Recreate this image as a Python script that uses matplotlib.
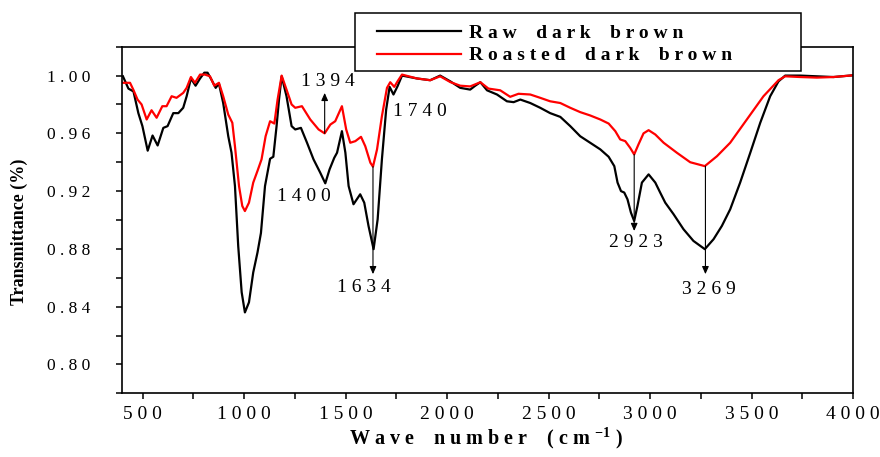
import numpy as np
import matplotlib
matplotlib.use("Agg")
import matplotlib.pyplot as plt
from matplotlib.ticker import MultipleLocator, FuncFormatter
from matplotlib.patches import Rectangle

plt.rcParams['font.family'] = ['Liberation Serif', 'DejaVu Serif']
plt.rcParams['mathtext.fontset'] = 'custom'
plt.rcParams['mathtext.rm'] = 'Liberation Serif'
plt.rcParams['mathtext.bf'] = 'Liberation Serif:bold'

# Serien
raw_label = "Raw dark brown"
roasted_label = "Roasted dark brown"

raw_x = [403, 430, 455, 479, 499, 525, 549, 574, 602, 623, 651, 676, 700, 717, 738, 761, 783, 804, 820, 840,
         860, 876, 897, 922, 938, 955, 971, 988, 1004, 1024, 1045, 1066, 1083, 1103, 1128, 1144, 1160, 1172, 1185, 1209,
         1234, 1252, 1280, 1310, 1342, 1375, 1400, 1421, 1444, 1458, 1482, 1499, 1515, 1539, 1572, 1592, 1613, 1638, 1658, 1679,
         1700, 1717, 1736, 1756, 1778, 1852, 1917, 1966, 2016, 2065, 2114, 2139, 2164, 2197, 2246, 2295, 2328, 2361, 2410, 2459,
         2508, 2558, 2607, 2656, 2705, 2755, 2796, 2824, 2840, 2857, 2873, 2889, 2906, 2922, 2938, 2960, 2993, 3026, 3050, 3075,
         3116, 3165, 3214, 3270, 3313, 3354, 3395, 3444, 3494, 3543, 3592, 3633, 3666, 3740, 3822, 3904, 4000]
raw_y = [0.9995, 0.991, 0.989, 0.974, 0.965, 0.948, 0.9585, 0.9516, 0.9638, 0.965, 0.974, 0.974, 0.9777, 0.9857, 0.998, 0.993, 0.998, 1.002, 1.002, 0.997,
         0.9915, 0.9945, 0.981, 0.958, 0.9466, 0.9235, 0.882, 0.850, 0.836, 0.843, 0.8637, 0.8775, 0.891, 0.9235, 0.9424, 0.9438, 0.965, 0.9834, 0.9995, 0.9857,
         0.965, 0.9627, 0.9638, 0.9535, 0.942, 0.9328, 0.9254, 0.935, 0.943, 0.9466, 0.9615, 0.9466, 0.9235, 0.9109, 0.9178, 0.912, 0.8959, 0.8798, 0.9005, 0.942,
         0.9765, 0.9922, 0.9869, 0.9926, 1.000, 0.998, 0.9968, 1.000, 0.996, 0.9915, 0.9903, 0.993, 0.9954, 0.9898, 0.9869, 0.9822, 0.9816, 0.9834, 0.981, 0.9777,
         0.974, 0.9714, 0.965, 0.958, 0.9535, 0.9489, 0.9438, 0.9373, 0.9259, 0.920, 0.919, 0.9143, 0.9051, 0.8993, 0.9097, 0.9259, 0.9316, 0.9259, 0.919, 0.912,
         0.904, 0.8936, 0.8855, 0.8798, 0.8867, 0.8959, 0.9074, 0.9259, 0.9466, 0.9673, 0.9857, 0.996, 1.000, 1.000, 0.9995, 0.999, 1.0002]

roasted_x = [403, 438, 454, 475, 495, 520, 544, 569, 597, 618, 643, 667, 700, 717, 738, 758, 783, 807, 832, 853,
             876, 897, 922, 942, 955, 975, 991, 1004, 1024, 1045, 1066, 1086, 1106, 1128, 1149, 1165, 1185, 1209, 1234, 1252,
             1285, 1326, 1367, 1397, 1425, 1449, 1482, 1503, 1523, 1548, 1576, 1597, 1622, 1635, 1655, 1679, 1704, 1720, 1740, 1756,
             1778, 1852, 1917, 1966, 2016, 2065, 2114, 2164, 2204, 2262, 2311, 2352, 2410, 2459, 2508, 2558, 2607, 2656, 2705, 2755,
             2796, 2829, 2853, 2878, 2902, 2922, 2943, 2968, 2993, 3026, 3067, 3132, 3198, 3270, 3330, 3395, 3477, 3559, 3633, 3666,
             3740, 3822, 3904, 4000]
roasted_y = [0.995, 0.995, 0.9903, 0.9834, 0.980, 0.9696, 0.976, 0.9708, 0.9788, 0.9788, 0.9857, 0.9846, 0.988, 0.9915, 0.999, 0.995, 1.0007, 1.0007, 0.9995, 0.993,
             0.995, 0.9857, 0.973, 0.9673, 0.951, 0.9235, 0.9097, 0.9062, 0.912, 0.9259, 0.934, 0.942, 0.958, 0.9684, 0.9668, 0.9834, 1.000, 0.9903, 0.980, 0.9777,
             0.9788, 0.9696, 0.9627, 0.960, 0.9661, 0.9684, 0.9788, 0.9627, 0.9535, 0.9546, 0.9576, 0.9511, 0.9397, 0.9369, 0.9489, 0.9719, 0.9915, 0.9954, 0.9922, 0.996,
             1.0007, 0.998, 0.9968, 0.9995, 0.9955, 0.993, 0.9925, 0.9954, 0.991, 0.9898, 0.9853, 0.9874, 0.9869, 0.9846, 0.9822, 0.981, 0.9777, 0.9747, 0.9724, 0.9696,
             0.9668, 0.9615, 0.9558, 0.9546, 0.950, 0.9454, 0.9523, 0.960, 0.9622, 0.9592, 0.9535, 0.9466, 0.940, 0.9373, 0.9442, 0.9535, 0.9696, 0.9857, 0.9968, 0.9995,
             0.999, 0.9986, 0.999, 1.0002]

# Piek-annotaties: label, golfgetal, begin pijl, eind pijl (None = geen pijl), tekstpositie
peak_labels = ["1394", "1400", "1740", "1634", "2923", "3269"]
peak_x = [1397, None, None, 1635, 2922, 3273]
arrow_from = [0.960, None, None, 0.937, 0.9454, 0.9373]
arrow_to = [0.988, None, None, 0.8625, 0.8924, 0.8625]
text_x = [1412, 1296, 1868, 1589, 2932, 3292]
text_y = [0.996, 0.916, 0.9748, 0.8533, 0.8843, 0.8522]


def spaties(s):
    return " ".join(s)


def legendtekst(s):
    # letters los, woorden ver uit elkaar (zoals in het origineel)
    return "    ".join(spaties(w) for w in s.split())


fig = plt.figure(figsize=(8.8, 4.57), dpi=100)
ax = fig.add_axes([0.139, 0.1394, 0.8303, 0.7584])

ax.plot(raw_x, raw_y, color="black", lw=1.6, label=legendtekst(raw_label))
ax.plot(roasted_x, roasted_y, color="#ff0000", lw=1.6, label=legendtekst(roasted_label))

for lab, px, a0, a1, tx, ty in zip(peak_labels, peak_x, arrow_from, arrow_to, text_x, text_y):
    if px is not None:
        ax.annotate("", xy=(px, a1), xytext=(px, a0),
                    arrowprops=dict(arrowstyle="-|>,head_length=0.45,head_width=0.2", lw=0.8,
                                    color="black", shrinkA=0, shrinkB=0))
    ax.text(tx, ty, spaties(lab), ha="center", va="center", fontsize=14)

ax.set_xlim(400, 4000)
ax.set_ylim(0.78, 1.02)
ax.xaxis.set_major_locator(MultipleLocator(500))
ax.xaxis.set_minor_locator(MultipleLocator(250))
ax.yaxis.set_major_locator(MultipleLocator(0.04))
ax.yaxis.set_minor_locator(MultipleLocator(0.02))
ax.xaxis.set_major_formatter(FuncFormatter(lambda v, p: spaties(str(int(round(v))))))
ax.yaxis.set_major_formatter(FuncFormatter(lambda v, p: spaties(f"{v:.2f}")))

ax.tick_params(axis="both", which="both", direction="out", length=4, width=1.1, top=False, right=False)
ax.tick_params(axis="x", labelsize=14, pad=5)
ax.tick_params(axis="y", labelsize=12.5, pad=19)
for sp in ax.spines.values():
    sp.set_linewidth(1.2)

ax.set_xlabel(r"W a v e    n u m b e r    ( c m $^{\mathbf{-1}}$ )", fontsize=14.5, fontweight="bold")
ax.xaxis.set_label_coords(0.498, -0.092)
ax.set_ylabel("Transmittance (%)", fontsize=13, fontweight="bold")
ax.yaxis.set_label_coords(-0.129, 0.465)

# legendakader
kader = Rectangle((0.3185, 0.9299), 0.6103, 0.1673, transform=ax.transAxes, facecolor="white",
                  edgecolor="black", lw=1.1, clip_on=False, zorder=4)
ax.add_patch(kader)
leg = ax.legend(loc="upper left", bbox_to_anchor=(0.3368, 1.0885), frameon=False,
                prop={"weight": "bold", "size": 14}, handlelength=4.3, handletextpad=0.45,
                borderpad=0.44, labelspacing=0.24, borderaxespad=0)
leg.set_zorder(5)

fig.savefig("out.png", dpi=100)
